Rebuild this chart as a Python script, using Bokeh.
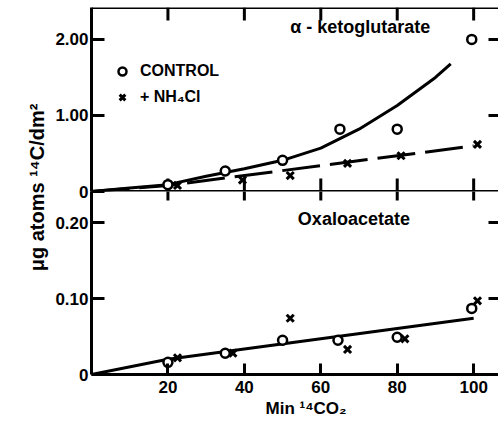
import math
from bokeh.plotting import figure
from bokeh.models import Range1d, FixedTicker, Label, Legend, LegendItem, Span, Title
from bokeh.layouts import row, column
from bokeh.embed import file_html
from bokeh.resources import INLINE

# ---------------- data ----------------
minute_ticks = [20, 40, 60, 80, 100]
akg_ticks = [0, 1.0, 2.0]
akg_tick_labels = ["0", "1.00", "2.00"]
oaa_ticks = [0, 0.10, 0.20]
oaa_tick_labels = ["0", "0.10", "0.20"]

# alpha-ketoglutarate panel
akg_ctrl_min = [20, 35, 50, 65, 80, 99.5]
akg_ctrl_val = [0.09, 0.27, 0.41, 0.82, 0.82, 2.00]
akg_nh4_min = [22.5, 39.5, 52, 67, 81, 101]
akg_nh4_val = [0.08, 0.15, 0.21, 0.37, 0.47, 0.62]
akg_ctrl_curve_min = [0, 10, 20, 30, 40, 50, 60, 70, 80, 90, 94]
akg_ctrl_curve_val = [0, 0.045, 0.09, 0.20, 0.30, 0.41, 0.57, 0.82, 1.13, 1.50, 1.68]
akg_nh4_line_min = [0, 20, 100]
akg_nh4_line_val = [0, 0.08, 0.60]

# oxaloacetate panel
oaa_ctrl_min = [20, 35, 50, 64.5, 80, 99.5]
oaa_ctrl_val = [0.016, 0.028, 0.045, 0.045, 0.049, 0.087]
oaa_nh4_min = [22.5, 37, 52, 67, 82, 101]
oaa_nh4_val = [0.022, 0.028, 0.074, 0.033, 0.047, 0.097]
oaa_line_min = [0, 20, 100]
oaa_line_val = [0, 0.02, 0.074]

# ---------------- layout constants ----------------
FONT = "Liberation Sans"
LAB_W, LAB_H = 51, 423
LEFT = 40
FRAME_W = 407
TOP_H, BOT_H = 184, 183
X_END = 106.5
AKG_END = 2.42
OAA_END = 0.2408
X_PX = FRAME_W / X_END
AKG_PX = TOP_H / AKG_END
OAA_PX = BOT_H / OAA_END
OVERLAP = 12


def style_axis(ax, ticks, labels, tick_in, size="17px"):
    ax.ticker = FixedTicker(ticks=ticks)
    ax.major_label_overrides = {t: l for t, l in zip(ticks, labels)}
    ax.major_tick_in = tick_in
    ax.major_tick_out = 0
    ax.minor_tick_line_color = None
    ax.major_label_text_font = FONT
    ax.major_label_text_font_style = "bold"
    ax.major_label_text_font_size = size
    ax.major_label_text_color = "black"
    ax.axis_line_width = 3
    ax.axis_line_color = "black"
    ax.major_tick_line_width = 3
    ax.major_tick_line_color = "black"


def edge_ticks_x(p, xs, y_edge, dy):
    p.segment(x0=xs, y0=[y_edge] * len(xs), x1=xs, y1=[y_edge + dy] * len(xs),
              line_color="black", line_width=3)


def edge_ticks_y(p, ys, x_edge, dx):
    p.segment(x0=[x_edge] * len(ys), y0=ys, x1=[x_edge + dx] * len(ys), y1=ys,
              line_color="black", line_width=3)


# ---------------- top panel ----------------
top = figure(frame_width=FRAME_W, frame_height=TOP_H,
             x_range=Range1d(0, X_END), y_range=Range1d(0, AKG_END),
             x_axis_location=None, output_backend="svg", toolbar_location=None,
             min_border_left=LEFT, min_border_right=0, min_border_top=7,
             min_border_bottom=OVERLAP)
top.grid.visible = False
top.outline_line_color = None
style_axis(top.yaxis[0], akg_ticks, akg_tick_labels, 13)
top.yaxis[0].major_label_standoff = 3
top.add_layout(Span(location=AKG_END, dimension="width", line_color="black", line_width=3))
top.add_layout(Span(location=0, dimension="width", line_color="black", line_width=3))

edge_ticks_x(top, minute_ticks, AKG_END, -13 / AKG_PX)
edge_ticks_x(top, minute_ticks, 0, 13 / AKG_PX)
edge_ticks_y(top, akg_ticks[1:], X_END, -10 / X_PX)

top.line(akg_ctrl_curve_min, akg_ctrl_curve_val, line_color="black", line_width=3)
top.line(akg_nh4_line_min, akg_nh4_line_val, line_color="black", line_width=3, line_dash="38 10")
c_top = top.scatter(akg_ctrl_min, akg_ctrl_val, marker="circle", size=9, line_width=2.5,
                    line_color="black", fill_color="white")
x_top = top.scatter(akg_nh4_min, akg_nh4_val, marker="x", size=10, line_width=3,
                    line_color="black")

legend = Legend(items=[LegendItem(label="CONTROL", renderers=[c_top]),
                       LegendItem(label="+ NH₄Cl", renderers=[x_top])],
                location=(21, 84), border_line_color=None, background_fill_alpha=0,
                label_text_font=FONT, label_text_font_style="bold", label_text_font_size="16px",
                label_text_color="black",
                glyph_width=20, glyph_height=20, spacing=6, padding=0, margin=0, label_standoff=8)
top.add_layout(legend)

top.add_layout(Label(x=52, y=2.16, text="α - ketoglutarate", text_font=FONT,
                     text_font_style="bold", text_font_size="18px", text_baseline="middle",
                     text_color="black"))

# ---------------- bottom panel ----------------
bot = figure(frame_width=FRAME_W, frame_height=BOT_H,
             x_range=top.x_range, y_range=Range1d(0, OAA_END),
             output_backend="svg", toolbar_location=None,
             min_border_left=LEFT, min_border_right=0, min_border_top=0, min_border_bottom=49,
             margin=(-OVERLAP, 0, 0, 0), background_fill_color=None, border_fill_color=None)
bot.grid.visible = False
bot.outline_line_color = None

style_axis(bot.xaxis[0], minute_ticks, [str(t) for t in minute_ticks], 11)
bot.xaxis[0].major_label_standoff = 6
style_axis(bot.yaxis[0], oaa_ticks, oaa_tick_labels, 13)
bot.yaxis[0].major_label_standoff = 3

# x-axis title, under the tick labels and shifted right as in the original
bot.add_layout(Title(text="Min ¹⁴CO₂", align="left", offset=174, standoff=2,
                     text_font=FONT, text_font_style="bold", text_font_size="17px",
                     text_color="black"), "below")

edge_ticks_x(bot, minute_ticks, OAA_END, -9 / OAA_PX)
edge_ticks_y(bot, oaa_ticks[1:], X_END, -10 / X_PX)

bot.line(oaa_line_min, oaa_line_val, line_color="black", line_width=3)
bot.scatter(oaa_ctrl_min, oaa_ctrl_val, marker="circle", size=9, line_width=2.5,
            line_color="black", fill_color="white")
bot.scatter(oaa_nh4_min, oaa_nh4_val, marker="x", size=10, line_width=3, line_color="black")

bot.add_layout(Label(x=54, y=0.204, text="Oxaloacetate", text_font=FONT,
                     text_font_style="bold", text_font_size="18px", text_baseline="middle",
                     text_color="black"))

# ---------------- shared y-axis title ----------------
lab = figure(width=LAB_W, height=LAB_H, x_range=Range1d(0, LAB_W), y_range=Range1d(0, LAB_H),
             output_backend="svg", toolbar_location=None, min_border=0)
lab.axis.visible = False
lab.grid.visible = False
lab.outline_line_color = None
lab.add_layout(Label(x=36, y=LAB_H - 187, text="μg atoms ¹⁴C/dm²", angle=math.pi / 2,
                     text_font=FONT, text_font_style="bold", text_font_size="20px",
                     text_align="center", text_baseline="middle", text_color="black"))

layout = row(lab, column(top, bot))

with open("out.html", "w") as f:
    f.write(file_html(layout, INLINE))
